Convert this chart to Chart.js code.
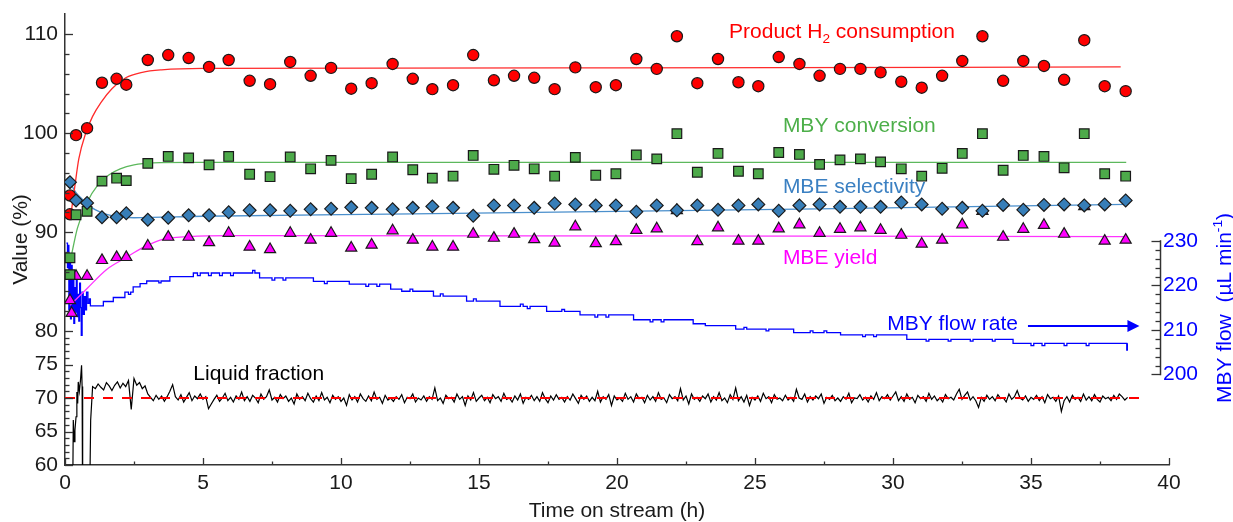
<!DOCTYPE html>
<html>
<head>
<meta charset="utf-8">
<script src="https://cdn.jsdelivr.net/npm/chart.js@4.4.1/dist/chart.umd.min.js"></script>
<style>
  html, body { margin: 0; padding: 0; background: #fff; }
</style>
</head>
<body>
<canvas id="c" width="1233" height="522"></canvas>
<script>
/* ---------- data ---------- */

// GC sample times (h)
const sampleTime = [0.18, 0.40, 0.80, 1.34, 1.87, 2.22,
  3.00, 3.74, 4.48, 5.22, 5.93, 6.69, 7.43, 8.16, 8.90, 9.64,
  10.37, 11.11, 11.87, 12.60, 13.31, 14.06, 14.79, 15.54, 16.27, 17.00,
  17.74, 18.49, 19.23, 19.96, 20.70, 21.44, 22.17, 22.91, 23.66, 24.40,
  25.12, 25.86, 26.61, 27.34, 28.08, 28.82, 29.55, 30.30, 31.04, 31.78,
  32.51, 33.24, 33.99, 34.72, 35.47, 36.20, 36.93, 37.67, 38.43];

const h2Consumption = [93.7, 99.8, 100.5, 105.1, 105.5, 104.9,
  107.4, 107.9, 107.6, 106.7, 107.4, 105.3, 104.95, 107.2, 105.8, 106.6,
  104.5, 105.05, 107.0, 105.5, 104.45, 104.85, 107.9, 105.35, 105.8, 105.6,
  104.45, 106.65, 104.65, 104.85, 107.5, 106.5, 109.8, 105.05, 107.5, 105.15,
  104.75, 107.7, 107.0, 105.8, 106.5, 106.5, 106.15, 105.2, 104.6, 105.8,
  107.3, 109.8, 105.3, 107.3, 106.8, 105.4, 109.4, 104.75, 104.25];

const mbyConversion = [87.4, 91.75, 92.1, 95.15, 95.45, 95.2,
  96.95, 97.65, 97.5, 96.8, 97.65, 95.85, 95.6, 97.6, 96.4, 97.25,
  95.4, 95.85, 97.6, 96.3, 95.45, 95.65, 97.75, 96.35, 96.75, 96.4,
  95.65, 97.55, 95.75, 95.9, 97.8, 97.4, 99.95, 96.05, 97.95, 96.15,
  95.9, 98.05, 97.85, 96.85, 97.3, 97.4, 97.1, 96.4, 95.65, 96.45,
  97.95, 99.95, 96.25, 97.75, 97.65, 96.5, 99.95, 95.9, 95.65];

const mbeSelectivity = [95.05, 93.2, 92.95, 91.5, 91.5, 91.9,
  91.25, 91.45, 91.7, 91.7, 92.0, 92.2, 92.2, 92.15, 92.3, 92.35,
  92.5, 92.45, 92.3, 92.45, 92.6, 92.45, 91.65, 92.7, 92.7, 92.45,
  92.9, 92.8, 92.7, 92.7, 92.05, 92.7, 92.2, 92.7, 92.25, 92.7,
  92.8, 92.15, 92.7, 92.8, 92.55, 92.55, 92.55, 93.0, 92.8, 92.35,
  92.45, 92.15, 92.75, 92.25, 92.75, 92.8, 92.7, 92.8, 93.2];

const mbeYield = [83.1, 85.55, 85.55, 87.15, 87.45, 87.45,
  88.6, 89.5, 89.5, 88.95, 89.9, 88.5, 88.25, 89.9, 89.2, 89.9,
  88.4, 88.7, 90.15, 89.2, 88.5, 88.5, 89.8, 89.4, 89.8, 89.25,
  88.9, 90.55, 88.85, 89.05, 90.2, 90.35, 92.2, 89.05, 90.45, 89.1,
  89.1, 90.35, 90.75, 89.9, 90.3, 90.45, 90.2, 89.7, 88.8, 89.2,
  90.75, 92.1, 89.5, 90.3, 90.7, 89.8, 92.6, 89.1, 89.2];

// second start-up samples
const repeatTime = [0.18, 0.24];
const h2Repeat = [91.8, null];
const convRepeat = [85.7, null];
const yieldRepeat = [null, 81.8];

// fitted trend curves (read at a few points)
const h2FitTime = [0.2, 0.35, 0.5, 0.75, 1.0, 1.3, 1.7, 2.2, 2.8, 3.5, 5, 20, 38.25];
const h2Fit = [91.5, 94.5, 97.4, 100.0, 101.7, 103.1, 104.5, 105.6, 106.15, 106.4, 106.55, 106.6, 106.7];
const convFitTime = [0.2, 0.45, 0.8, 1.2, 1.6, 2.0, 2.5, 3.2, 4.5, 38.45];
const convFit = [87.2, 90.4, 93.0, 94.8, 95.8, 96.4, 96.8, 97.0, 97.05, 97.05];
const selFitTime = [0.18, 0.4, 0.6, 0.9, 1.3, 1.8, 2.5, 5, 12.6, 20, 27.3, 38.45];
const selFit = [95.0, 94.0, 93.4, 92.6, 92.0, 91.6, 91.45, 91.6, 91.85, 92.1, 92.35, 92.8];
const yieldFitTime = [0.18, 0.8, 1.5, 2.2, 2.8, 3.5, 4.5, 6, 38.45];
const yieldFit = [82.6, 84.3, 86.2, 87.4, 88.4, 89.25, 89.55, 89.65, 89.55];

// MBY flow rate (µL/min), stepped record
const flowTime = [0.05, 0.09, 0.11, 0.14, 0.17, 0.2, 0.23, 0.26, 0.29, 0.32, 0.35, 0.38, 0.41, 0.44,
  0.47, 0.5, 0.53, 0.56, 0.59, 0.62, 0.66, 0.7, 0.74, 0.78, 0.83, 0.88, 0.92,
  1.39, 1.75, 2.17, 2.3, 2.38, 2.47, 2.72, 2.96, 3.4, 3.48, 3.8, 4.65, 4.8, 4.9, 5.2, 5.3,
  5.6, 5.7, 6.0, 6.1, 6.8, 6.88, 7.05, 7.5, 7.6, 7.9, 8.0, 9.0, 9.4, 9.5, 10.3,
  10.9, 11.0, 11.3, 11.4, 11.8, 12.2, 12.5, 12.6, 13.35, 13.6, 13.7, 14.55, 14.8, 14.9,
  15.76, 16.5, 16.6, 16.75, 16.85, 17.45, 18.0, 18.1, 18.66, 19.2, 19.3, 19.6, 19.7,
  20.6, 21.2, 21.3, 21.6, 21.7, 22.76, 23.2, 24.3, 24.6, 24.7, 25.4, 25.5, 26.4,
  27.0, 27.1, 27.5, 27.6, 28.1, 28.9, 29.0, 29.3, 29.4, 30.5, 31.2, 31.3, 32.0, 32.1,
  32.8, 32.9, 33.6, 33.7, 34.35, 35.0, 35.1, 35.4, 35.5, 36.2, 36.3, 37.0, 37.1, 38.47, 38.49];
const flowRate = [229.5, 224.0, 229.0, 214.5, 226.0, 212.5, 224.5, 213.5, 221.5, 211.5, 219.5, 214.0, 222.5, 213.0,
  218.0, 212.0, 220.5, 215.0, 208.8, 218.5, 213.5, 217.5, 214.5, 218.5, 216.0, 217.0, 215.4,
  216.4, 217.3, 218.5, 218.0, 218.5, 219.7, 220.4, 221.0, 220.6, 221.0, 222.0, 222.8, 222.2, 222.8, 222.2, 222.8,
  222.2, 222.8, 222.2, 222.8, 223.4, 222.8, 221.7, 221.2, 221.7, 221.2, 221.7, 220.9, 220.4, 220.9, 220.3,
  219.8, 220.3, 219.8, 220.3, 219.2, 218.7, 219.2, 218.7, 217.6, 218.1, 217.6, 216.5, 217.0, 216.5,
  215.3, 215.8, 215.3, 214.8, 215.3, 214.2, 214.6, 214.2, 213.4, 212.9, 213.4, 212.9, 213.4,
  212.3, 211.8, 212.3, 211.8, 212.3, 211.4, 211.0, 210.2, 210.6, 210.2, 209.8, 210.2, 209.4,
  209.8, 209.4, 209.8, 209.4, 208.9, 208.5, 208.9, 208.5, 208.9, 207.9, 207.5, 207.9, 207.5, 207.9,
  207.5, 207.9, 207.5, 207.9, 207.0, 206.5, 207.0, 206.5, 207.0, 206.5, 207.0, 206.5, 207.0, 205.5, 207.0];

// liquid fraction (%), start-up then logged every 0.1 h from 1.1 h
const liquidEarlyTime = [0.27, 0.30, 0.33, 0.36, 0.40, 0.43, 0.46, 0.48, 0.52, 0.56, 0.60, 0.62, 0.64, 0.88, 0.93, 1.00];
const liquidEarly = [50, 66.7, 63.5, 65.2, 67.2, 70.9, 69.2, 72.4, 71.0, 72.6, 74.9, 71.7, 50, 50, 66.7, 71.7];
const liquidLogStart = 1.1, liquidLogStep = 0.1;
const liquidFraction = [
  71.4, 72.1, 71.6, 71.2, 72.3, 71.8, 71.1, 71.9, 72.4, 71.5,
  72.2, 71.7, 72.6, 68.3, 72.9, 71.9, 72.3, 71.4, 71.8, 70.6,
  70.1, 69.6, 70.4, 69.8, 70.3, 69.5, 70.2, 71.0, 72.0, 70.2,
  69.7, 70.5, 69.4, 70.1, 70.8, 69.6, 70.3, 69.9, 70.6, 69.8,
  70.2, 68.4, 69.1, 69.8, 70.4, 69.5, 70.0, 70.7, 69.6, 70.1,
  69.4, 70.3, 69.8, 70.9, 69.6, 70.2, 69.5, 70.4, 70.0, 69.3,
  70.6, 69.8, 70.2, 71.2, 69.7, 70.1, 69.4, 70.5, 69.9, 70.3,
  69.5, 70.0, 69.1, 70.6, 69.8, 70.2, 69.6, 70.7, 69.9, 69.4,
  70.3, 69.6, 70.8, 69.7, 70.1, 69.3, 70.4, 69.8, 70.2, 69.5,
  70.0, 68.9, 70.5, 69.7, 70.2, 69.4, 70.6, 69.9, 69.5, 70.3,
  69.6, 70.9, 69.8, 70.1, 69.2, 70.4, 69.7, 70.0, 69.5, 70.2,
  69.8, 70.5, 69.3, 70.1, 69.9, 70.6, 69.4, 70.0, 69.7, 70.3,
  69.5, 70.2, 69.8, 71.5, 69.6, 70.0, 69.2, 70.4, 69.9, 70.1,
  69.4, 70.6, 69.8, 70.2, 68.9, 70.3, 69.7, 70.8, 69.5, 70.0,
  70.4, 69.6, 70.1, 69.3, 70.5, 69.9, 70.2, 69.5, 70.7, 69.8,
  70.0, 69.4, 70.3, 69.7, 70.6, 69.2, 70.1, 69.8, 70.4, 69.6,
  70.2, 69.5, 70.8, 69.9, 69.3, 70.3, 69.7, 70.5, 69.8, 70.1,
  69.4, 70.2, 69.7, 70.6, 69.9, 69.2, 70.4, 69.8, 70.3, 69.5,
  70.1, 69.6, 71.0, 69.4, 70.2, 69.8, 70.5, 68.9, 70.3, 69.7,
  70.0, 69.5, 70.7, 69.8, 70.2, 69.4, 70.6, 69.9, 70.1, 69.3,
  70.4, 69.7, 70.2, 69.5, 70.8, 69.8, 70.0, 69.3, 70.5, 69.9,
  70.2, 69.6, 71.4, 69.7, 70.3, 69.1, 70.6, 69.8, 70.1, 69.5,
  70.3, 69.9, 70.6, 69.4, 70.2, 69.7, 70.8, 69.6, 70.0, 69.3,
  70.5, 69.8, 71.5, 69.6, 70.2, 69.4, 70.4, 68.9, 70.1, 69.7,
  70.3, 69.5, 70.7, 69.9, 70.2, 69.3, 70.5, 69.8, 70.0, 69.6,
  70.4, 69.7, 70.1, 69.5, 71.3, 70.0, 69.8, 70.6, 69.4, 70.2,
  69.7, 70.3, 69.9, 70.6, 69.2, 70.1, 69.8, 70.4, 69.6, 70.0,
  69.5, 70.2, 69.8, 70.7, 69.3, 70.0, 69.9, 70.5, 69.7, 70.1,
  69.4, 70.3, 69.8, 70.8, 69.6, 70.2, 69.9, 70.5, 69.7, 70.3,
  70.9, 69.6, 70.2, 69.5, 70.6, 69.8, 70.1, 69.3, 70.4, 69.9,
  70.2, 69.5, 70.7, 69.8, 70.3, 69.6, 70.0, 69.4, 70.5, 69.9,
  70.1, 69.7, 70.6, 71.3, 69.8, 70.4, 70.9, 69.7, 70.2, 69.6,
  68.6, 70.1, 69.5, 70.4, 69.8, 70.2, 69.6, 70.5, 69.9, 70.0,
  69.4, 70.6, 69.8, 70.2, 71.1, 70.0, 69.7, 70.3, 69.5, 70.1,
  69.8, 70.4, 69.6, 70.2, 69.3, 70.5, 69.9, 70.1, 69.5, 70.3,
  68.0, 69.6, 70.2, 69.4, 70.4, 69.8, 70.1, 69.5, 70.6, 69.7,
  70.2, 69.6, 70.5, 69.8, 69.4, 70.3, 69.9, 70.1, 69.6, 70.4,
  69.8, 70.6, 70.2, 69.7, 70.1];
const liquidSetpoint = 70;
const setpointEnd = 39.06;

// axis ticks
const xMajor = [0, 5, 10, 15, 20, 25, 30, 35, 40];
const leftMajor = [60, 65, 70, 75, 80, 90, 100, 110];
const flowMajor = [200, 210, 220, 230];

/* ---------- styling ---------- */
const FONT = '"Liberation Sans", Arial, Helvetica, sans-serif';
const INK = '#1a1a1a';
const AXIS = '#333';
const BREAK_AT = 80;          // value where the left axis changes scale
const BREAK_FRAC = 134 / 451; // share of the axis height below the break
const FLOW_AXIS_X = 1160;

// left axis: 60-80 compressed, 80-112 expanded
class BrokenLinearScale extends Chart.LinearScale {
  getPixelForValue(v) {
    if (v === null || v === undefined || isNaN(v)) return NaN;
    const lo = this.min, hi = this.max;
    const dec = v <= BREAK_AT
      ? BREAK_FRAC * (v - lo) / (BREAK_AT - lo)
      : BREAK_FRAC + (1 - BREAK_FRAC) * (v - BREAK_AT) / (hi - BREAK_AT);
    return this.getPixelForDecimal(dec);
  }
  getValueForPixel(p) {
    const dec = this.getDecimalForPixel(p);
    return dec <= BREAK_FRAC
      ? this.min + dec / BREAK_FRAC * (BREAK_AT - this.min)
      : BREAK_AT + (dec - BREAK_FRAC) / (1 - BREAK_FRAC) * (this.max - BREAK_AT);
  }
}
BrokenLinearScale.id = 'brokenLinear';
BrokenLinearScale.defaults = Chart.LinearScale.defaults;
Chart.register(BrokenLinearScale);

function pts(ts, vs) {
  return ts.map((t, i) => ({x: t, y: vs[i]})).filter(p => p.y !== null);
}

const liquidPts = pts(liquidEarlyTime, liquidEarly)
  .concat(liquidFraction.map((v, i) => ({x: +(liquidLogStart + i * liquidLogStep).toFixed(2), y: v})));

function minorTicks(from, to, step, majors) {
  const out = [];
  for (let v = from; v <= to + 1e-9; v += step) {
    const r = Math.round(v * 100) / 100;
    if (!majors.includes(r)) out.push(r);
  }
  return out;
}
const xMinor = minorTicks(0, 40, 2.5, xMajor);
const leftMinor = minorTicks(60, 80, 1, leftMajor).concat(minorTicks(82, 110, 2, leftMajor));
const flowMinor = minorTicks(200, 230, 2, flowMajor);

// text labels inside the plot
const notes = [
  {axis: 'y', t: 24.06, v: 109.6, color: '#ff0000', parts: [{t: 'Product H'}, {t: '2', s: 'sub'}, {t: ' consumption'}]},
  {axis: 'y', t: 26.01, v: 100.17, color: '#4daf4a', parts: [{t: 'MBY conversion'}]},
  {axis: 'y', t: 26.01, v: 94.0, color: '#3b80c2', parts: [{t: 'MBE selectivity'}]},
  {axis: 'y', t: 26.01, v: 86.77, color: '#ff00ff', parts: [{t: 'MBE yield'}]},
  {axis: 'yFlow', t: 29.79, v: 210.0, color: '#0000ff', parts: [{t: 'MBY flow rate'}]},
  {axis: 'y', t: 4.65, v: 72.75, color: '#000000', parts: [{t: 'Liquid fraction'}]}
];

function richText(ctx, parts, x, y, size, color) {
  ctx.fillStyle = color;
  let cx = x;
  for (const p of parts) {
    const sz = p.s ? size * 0.65 : size;
    ctx.font = sz + 'px ' + FONT;
    const dy = p.s === 'sub' ? size * 0.25 : p.s === 'sup' ? -size * 0.42 : 0;
    ctx.fillText(p.t, cx, y + dy);
    cx += ctx.measureText(p.t).width;
  }
  return cx - x;
}

const decor = {
  id: 'decor',
  afterLayout(chart) {
    // the flow axis sits a little inside the x range
    const s = chart.scales.yFlow;
    const shift = s.left - FLOW_AXIS_X;
    s.left -= shift;
    s.right -= shift;
  },
  afterDraw(chart) {
    const {ctx} = chart;
    const {x, y, yFlow} = chart.scales;
    ctx.save();
    ctx.strokeStyle = AXIS;
    const seg = (x1, y1, x2, y2) => { ctx.beginPath(); ctx.moveTo(x1, y1); ctx.lineTo(x2, y2); ctx.stroke(); };

    // x ticks, pointing up
    ctx.lineWidth = 1.3;
    xMajor.concat(xMinor).forEach(v => {
      const px = Math.round(x.getPixelForValue(v)) + 0.5;
      seg(px, x.top, px, x.top - (xMajor.includes(v) ? 7 : 3.5));
    });
    // left ticks, pointing right
    leftMajor.concat(leftMinor).forEach(v => {
      const py = Math.round(y.getPixelForValue(v)) + 0.5;
      seg(y.right, py, y.right + (leftMajor.includes(v) ? 8 : 4.5), py);
    });
    // flow axis: short bracket from 200 to 230, ticks pointing left
    const ax = Math.round(yFlow.left) + 0.5;
    ctx.lineWidth = 1.5;
    seg(ax, yFlow.getPixelForValue(200) + 0.75, ax, yFlow.getPixelForValue(230) - 0.75);
    ctx.lineWidth = 1.3;
    flowMajor.concat(flowMinor).forEach(v => {
      const py = Math.round(yFlow.getPixelForValue(v)) + 0.5;
      seg(ax, py, ax - (flowMajor.includes(v) ? 9 : 5), py);
    });

    // notes
    ctx.textBaseline = 'alphabetic';
    ctx.textAlign = 'left';
    for (const n of notes) {
      const sc = chart.scales[n.axis];
      richText(ctx, n.parts, x.getPixelForValue(n.t), sc.getPixelForValue(n.v), 21, n.color);
    }

    // arrow pointing to the flow axis
    const ay = yFlow.getPixelForValue(210.9);
    const a0 = x.getPixelForValue(34.89), a1 = x.getPixelForValue(38.93);
    ctx.strokeStyle = '#0000ff';
    ctx.fillStyle = '#0000ff';
    ctx.lineWidth = 2;
    seg(a0, ay, a1 - 8, ay);
    ctx.beginPath();
    ctx.moveTo(a1, ay);
    ctx.lineTo(a1 - 12, ay - 6);
    ctx.lineTo(a1 - 12, ay + 6);
    ctx.closePath();
    ctx.fill();

    // flow axis title, reading upward
    ctx.translate(1223, 308);
    ctx.rotate(-Math.PI / 2);
    const parts = [{t: 'MBY flow  (µL min'}, {t: '-1', s: 'sup'}, {t: ')'}];
    let w = 0;
    for (const p of parts) { ctx.font = (p.s ? 13.65 : 21) + 'px ' + FONT; w += ctx.measureText(p.t).width; }
    richText(ctx, parts, -w / 2, 7.5, 21, '#0000ff');
    ctx.restore();
  }
};

const markerBorder = {borderColor: '#1a1a1a', borderWidth: 1.2};
const noGrid = {display: false, drawTicks: false, tickLength: 0};

new Chart(document.getElementById('c'), {
  data: {
    datasets: [
      Object.assign({type: 'scatter', label: 'MBE selectivity', data: pts(sampleTime, mbeSelectivity),
        pointStyle: 'rectRot', pointRadius: 6.4, backgroundColor: '#377eb8', order: 0, yAxisID: 'y'}, markerBorder),
      Object.assign({type: 'scatter', label: 'MBY conversion', data: pts(sampleTime, mbyConversion).concat(pts(repeatTime, convRepeat)),
        pointStyle: 'rect', pointRadius: 6.8, backgroundColor: '#4daa4a', order: 1, yAxisID: 'y'}, markerBorder),
      Object.assign({type: 'scatter', label: 'Product H2 consumption', data: pts(sampleTime, h2Consumption).concat(pts(repeatTime, h2Repeat)),
        pointStyle: 'circle', pointRadius: 5.6, backgroundColor: '#ff0000', order: 2, yAxisID: 'y'}, markerBorder),
      Object.assign({type: 'scatter', label: 'MBE yield', data: pts(sampleTime, mbeYield).concat(pts(repeatTime, yieldRepeat)),
        pointStyle: 'triangle', pointRadius: 6.4, backgroundColor: '#ff00ff', order: 3, yAxisID: 'y'}, markerBorder),
      {type: 'line', label: 'H2 fit', data: pts(h2FitTime, h2Fit), borderColor: '#ff2b2b', borderWidth: 1.3,
        pointRadius: 0, cubicInterpolationMode: 'monotone', order: 4, yAxisID: 'y'},
      {type: 'line', label: 'conversion fit', data: pts(convFitTime, convFit), borderColor: '#5cb85c', borderWidth: 1.3,
        pointRadius: 0, cubicInterpolationMode: 'monotone', order: 5, yAxisID: 'y'},
      {type: 'line', label: 'selectivity fit', data: pts(selFitTime, selFit), borderColor: '#4a8fcc', borderWidth: 1.3,
        pointRadius: 0, cubicInterpolationMode: 'monotone', order: 6, yAxisID: 'y'},
      {type: 'line', label: 'yield fit', data: pts(yieldFitTime, yieldFit), borderColor: '#ff33ff', borderWidth: 1.3,
        pointRadius: 0, cubicInterpolationMode: 'monotone', order: 7, yAxisID: 'y'},
      {type: 'line', label: 'MBY flow', data: pts(flowTime, flowRate), borderColor: '#0000ff', borderWidth: 1.3,
        pointRadius: 0, stepped: true, order: 8, yAxisID: 'yFlow'},
      {type: 'line', label: 'set point', data: [{x: 0, y: liquidSetpoint}, {x: setpointEnd, y: liquidSetpoint}],
        borderColor: '#ff0000', borderWidth: 2.2, borderDash: [10, 9], pointRadius: 0, order: 9, yAxisID: 'y'},
      {type: 'line', label: 'Liquid fraction', data: liquidPts, borderColor: '#000000', borderWidth: 1.2,
        pointRadius: 0, order: 10, yAxisID: 'y'}
    ]
  },
  options: {
    responsive: false,
    devicePixelRatio: 1,
    animation: false,
    events: [],
    layout: {padding: {top: 14, left: 0, right: 0, bottom: 0}},
    plugins: {legend: {display: false}, tooltip: {enabled: false}},
    scales: {
      x: {
        type: 'linear', position: 'bottom', min: 0, max: 40, bounds: 'data',
        afterBuildTicks: s => { s.ticks = xMajor.map(v => ({value: v})); },
        afterFit: s => { s.height = 57; s.paddingLeft = 0; s.paddingRight = 0; },
        grid: noGrid,
        border: {display: true, color: AXIS, width: 1.5},
        ticks: {font: {family: FONT, size: 21}, color: INK, padding: 6, maxRotation: 0, autoSkip: false,
          callback: v => String(v)},
        title: {display: true, text: 'Time on stream (h)', color: INK,
          font: {family: FONT, size: 21, lineHeight: 1.2}, padding: {top: 0, bottom: -2}}
      },
      y: {
        type: 'brokenLinear', position: 'left', min: 60, max: 112.05, bounds: 'data',
        afterBuildTicks: s => { s.ticks = leftMajor.map(v => ({value: v})); },
        afterFit: s => { s.width = 65; s.paddingTop = 0; s.paddingBottom = 0; },
        grid: noGrid,
        border: {display: true, color: AXIS, width: 1.5},
        ticks: {font: {family: FONT, size: 21}, color: INK, padding: 7, autoSkip: false,
          callback: v => String(v)},
        title: {display: true, text: 'Value (%)', color: INK,
          font: {family: FONT, size: 21, lineHeight: 1.2}, padding: {top: 9, bottom: 0}}
      },
      yFlow: {
        type: 'linear', position: 'right', min: 179.66, max: 281.0, bounds: 'data',
        afterBuildTicks: s => { s.ticks = flowMajor.map(v => ({value: v})); },
        afterFit: s => { s.width = 64; s.paddingTop = 0; s.paddingBottom = 0; },
        grid: noGrid,
        border: {display: false},
        ticks: {font: {family: FONT, size: 21}, color: '#0000ff', padding: 3, autoSkip: false,
          callback: v => String(v)}
      }
    }
  },
  plugins: [decor]
});
</script>
</body>
</html>
